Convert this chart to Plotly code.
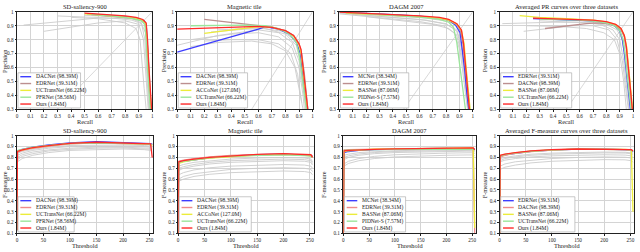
import plotly.graph_objects as go

FONT = "Liberation Serif, Times New Roman, serif"

# ---------------- titles / ticks ----------------
PR_TITLES = ["SD-saliency-900", "Magnetic tile", "DAGM 2007", "Averaged PR curves over three datasets"]
F_TITLES = ["SD-saliency-900", "Magnetic tile", "DAGM 2007", "Averaged F-measure curves over three datasets"]
PR_XTICKS = [0, 0.1, 0.2, 0.3, 0.4, 0.5, 0.6, 0.7, 0.8, 0.9, 1]
PR_XTICKTEXT = ["0", "0.1", "0.2", "0.3", "0.4", "0.5", "0.6", "0.7", "0.8", "0.9", "1"]
PR_YTICKS = [0.3, 0.4, 0.5, 0.6, 0.7, 0.8, 0.9, 1]
PR_YTICKTEXT = ["0.3", "0.4", "0.5", "0.6", "0.7", "0.8", "0.9", "1"]
F_XTICKS = [0, 50, 100, 150, 200, 250]
F_YTICKS = [0.1, 0.2, 0.3, 0.4, 0.5, 0.6, 0.7, 0.8, 0.9, 1]
F_YTICKTEXT = ["0.1", "0.2", "0.3", "0.4", "0.5", "0.6", "0.7", "0.8", "0.9", "1"]

# ---------------- PR data (recall list, precision list), legend order ----------------
SD_PR = {
    "DACNet (98.39M)": ([0.52, 0.65, 0.8, 0.9, 0.94, 0.955, 0.965, 0.975, 0.985, 0.993],
                        [0.985, 0.978, 0.965, 0.95, 0.935, 0.91, 0.78, 0.58, 0.4, 0.3]),
    "EDRNet (39.31M)": ([0.55, 0.7, 0.85, 0.92, 0.95, 0.96, 0.972, 0.983, 0.99],
                        [0.98, 0.97, 0.955, 0.94, 0.92, 0.8, 0.6, 0.4, 0.3]),
    "UCTransNet (66.22M)": ([0.5, 0.7, 0.85, 0.93, 0.95, 0.962, 0.975, 0.985, 0.992],
                            [0.985, 0.972, 0.958, 0.94, 0.915, 0.78, 0.55, 0.38, 0.3]),
    "PFRNet (58.56M)": ([0.55, 0.7, 0.85, 0.92, 0.945, 0.955, 0.965, 0.975, 0.985],
                        [0.982, 0.97, 0.952, 0.935, 0.91, 0.8, 0.6, 0.42, 0.3]),
    "Ours (1.84M)": ([0.5, 0.6, 0.7, 0.8, 0.88, 0.93, 0.955, 0.965, 0.975, 0.985, 0.995],
                     [0.99, 0.985, 0.978, 0.97, 0.96, 0.945, 0.92, 0.8, 0.6, 0.42, 0.3]),
}
SD_PR_GRAY = [
    ([0.05, 0.3, 0.6, 0.85, 0.92, 0.945, 0.96, 0.975], [0.905, 0.93, 0.955, 0.95, 0.92, 0.8, 0.55, 0.3]),
    ([0.2, 0.4, 0.6, 0.8, 0.9, 0.935, 0.955, 0.97], [0.86, 0.89, 0.92, 0.935, 0.91, 0.8, 0.55, 0.3]),
    ([0.3, 0.5, 0.7, 0.85, 0.92, 0.95, 0.965, 0.98], [0.97, 0.965, 0.955, 0.94, 0.915, 0.85, 0.6, 0.3]),
    ([0.4, 0.6, 0.8, 0.88, 0.91, 0.925, 0.94, 0.955], [0.96, 0.95, 0.92, 0.88, 0.8, 0.6, 0.45, 0.3]),
    ([0.5, 0.7, 0.85, 0.93, 0.955, 0.97, 0.985], [0.975, 0.965, 0.95, 0.93, 0.88, 0.6, 0.3]),
]
SD_DIAG = ([0.3, 1.0], [0.3, 1.0])

MT_PR = {
    "DACNet (98.39M)": ([0.0, 0.3, 0.6, 0.65, 0.75, 0.83, 0.88, 0.91, 0.93, 0.95, 0.96],
                        [0.71, 0.79, 0.875, 0.893, 0.875, 0.84, 0.78, 0.7, 0.55, 0.38, 0.3]),
    "EDRNet (39.31M)": ([0.2, 0.4, 0.6, 0.7, 0.8, 0.86, 0.9, 0.92, 0.94, 0.955, 0.965],
                        [0.945, 0.925, 0.905, 0.89, 0.865, 0.83, 0.77, 0.7, 0.55, 0.4, 0.3]),
    "ACCoNet (127.0M)": ([0.2, 0.4, 0.6, 0.7, 0.8, 0.86, 0.9, 0.915, 0.935, 0.95, 0.962],
                         [0.845, 0.87, 0.893, 0.89, 0.862, 0.825, 0.765, 0.7, 0.55, 0.4, 0.3]),
    "UCTransNet (66.22M)": ([0.1, 0.3, 0.5, 0.65, 0.75, 0.83, 0.88, 0.9, 0.92, 0.94, 0.955],
                            [0.9, 0.902, 0.905, 0.9, 0.88, 0.84, 0.78, 0.7, 0.55, 0.38, 0.3]),
    "Ours (1.84M)": ([0.0, 0.2, 0.4, 0.6, 0.7, 0.8, 0.86, 0.9, 0.915, 0.93, 0.95, 0.965],
                     [0.875, 0.88, 0.888, 0.895, 0.888, 0.865, 0.83, 0.77, 0.73, 0.6, 0.42, 0.3]),
}
MT_PR_GRAY = [
    ([0.0, 0.3, 0.6, 0.75, 0.85, 0.9, 0.93, 0.95], [0.76, 0.83, 0.87, 0.85, 0.78, 0.65, 0.45, 0.3]),
    ([0.1, 0.4, 0.6, 0.75, 0.85, 0.9, 0.93, 0.94], [0.8, 0.84, 0.85, 0.82, 0.74, 0.6, 0.4, 0.3]),
    ([0.2, 0.4, 0.6, 0.75, 0.84, 0.89, 0.92], [0.79, 0.8, 0.8, 0.77, 0.7, 0.55, 0.35]),
    ([0.25, 0.5, 0.65, 0.8, 0.88, 0.92, 0.95], [0.855, 0.875, 0.88, 0.84, 0.76, 0.6, 0.35]),
    ([0.1, 0.3, 0.55, 0.7, 0.8, 0.87, 0.9, 0.93], [0.75, 0.78, 0.79, 0.77, 0.72, 0.6, 0.45, 0.3]),
    ([0.3, 0.6, 0.78, 0.88, 0.92, 0.95, 0.96], [0.87, 0.885, 0.86, 0.79, 0.66, 0.42, 0.3]),
]
MT_DIAG = ([0.55, 1.0], [0.3, 1.0])

DG_PR = {
    "MCNet (38.34M)": ([0.0, 0.2, 0.4, 0.6, 0.75, 0.82, 0.87, 0.905, 0.92, 0.94, 0.955, 0.97],
                       [0.997, 0.99, 0.98, 0.968, 0.955, 0.94, 0.905, 0.85, 0.75, 0.58, 0.42, 0.3]),
    "EDRNet (39.31M)": ([0.0, 0.2, 0.4, 0.6, 0.75, 0.82, 0.88, 0.91, 0.928, 0.945, 0.96, 0.975],
                        [0.998, 0.99, 0.978, 0.966, 0.955, 0.94, 0.91, 0.86, 0.76, 0.6, 0.42, 0.3]),
    "BASNet (87.06M)": ([0.05, 0.2, 0.4, 0.6, 0.75, 0.82, 0.88, 0.915, 0.935, 0.95, 0.965, 0.98],
                        [0.99, 0.985, 0.975, 0.965, 0.955, 0.94, 0.912, 0.865, 0.77, 0.6, 0.42, 0.3]),
    "PIDNet-S (7.57M)": ([0.0, 0.2, 0.4, 0.6, 0.75, 0.82, 0.855, 0.88, 0.905, 0.93, 0.945],
                         [0.997, 0.988, 0.975, 0.962, 0.945, 0.925, 0.89, 0.78, 0.6, 0.42, 0.3]),
    "Ours (1.84M)": ([0.0, 0.2, 0.4, 0.6, 0.75, 0.82, 0.88, 0.915, 0.93, 0.945, 0.96, 0.975],
                     [0.998, 0.99, 0.98, 0.97, 0.96, 0.945, 0.915, 0.87, 0.78, 0.6, 0.42, 0.3]),
}
DG_PR_GRAY = [
    ([0.0, 0.3, 0.6, 0.8, 0.88, 0.92, 0.945, 0.965], [0.99, 0.97, 0.945, 0.915, 0.86, 0.72, 0.5, 0.3]),
    ([0.0, 0.3, 0.6, 0.78, 0.86, 0.905, 0.935, 0.96], [0.985, 0.96, 0.93, 0.9, 0.85, 0.72, 0.5, 0.3]),
    ([0.1, 0.4, 0.65, 0.8, 0.88, 0.92, 0.95, 0.975], [0.98, 0.96, 0.94, 0.91, 0.87, 0.75, 0.52, 0.3]),
    ([0.2, 0.45, 0.7, 0.82, 0.88, 0.915, 0.945, 0.97], [0.965, 0.94, 0.91, 0.88, 0.83, 0.7, 0.5, 0.3]),
    ([0.05, 0.35, 0.65, 0.82, 0.9, 0.935, 0.96, 0.98], [0.99, 0.975, 0.955, 0.93, 0.89, 0.75, 0.5, 0.3]),
]
DG_DIAG = ([0.48, 1.0], [0.3, 1.0])

AV_PR = {
    "EDRNet (39.31M)": ([0.25, 0.4, 0.55, 0.7, 0.8, 0.86, 0.9, 0.92, 0.935, 0.95, 0.965, 0.98],
                        [0.952, 0.947, 0.942, 0.935, 0.922, 0.9, 0.865, 0.8, 0.7, 0.55, 0.4, 0.3]),
    "DACNet (98.39M)": ([0.34, 0.5, 0.65, 0.72, 0.8, 0.87, 0.91, 0.935, 0.95, 0.965, 0.98, 0.993],
                        [0.88, 0.9, 0.915, 0.92, 0.915, 0.9, 0.87, 0.82, 0.74, 0.6, 0.42, 0.3]),
    "BASNet (87.06M)": ([0.15, 0.3, 0.5, 0.7, 0.8, 0.87, 0.91, 0.935, 0.952, 0.968, 0.982, 0.997],
                        [0.972, 0.96, 0.95, 0.94, 0.928, 0.908, 0.878, 0.83, 0.75, 0.6, 0.42, 0.3]),
    "UCTransNet (66.22M)": ([0.3, 0.45, 0.6, 0.72, 0.8, 0.86, 0.9, 0.925, 0.94, 0.955, 0.97, 0.985],
                            [0.948, 0.945, 0.94, 0.932, 0.92, 0.9, 0.865, 0.8, 0.7, 0.55, 0.4, 0.3]),
    "Ours (1.84M)": ([0.25, 0.4, 0.55, 0.7, 0.8, 0.87, 0.91, 0.935, 0.95, 0.965, 0.98, 0.995],
                     [0.955, 0.95, 0.945, 0.94, 0.93, 0.91, 0.88, 0.83, 0.75, 0.6, 0.42, 0.3]),
}
AV_PR_GRAY = [
    ([0.02, 0.2, 0.4, 0.6, 0.75, 0.85, 0.9, 0.93, 0.95, 0.97], [0.915, 0.92, 0.925, 0.925, 0.91, 0.87, 0.8, 0.65, 0.45, 0.3]),
    ([0.18, 0.35, 0.55, 0.7, 0.82, 0.88, 0.92, 0.945, 0.965], [0.86, 0.88, 0.9, 0.9, 0.87, 0.8, 0.65, 0.45, 0.3]),
    ([0.3, 0.5, 0.7, 0.82, 0.88, 0.92, 0.945, 0.965, 0.985], [0.935, 0.93, 0.92, 0.9, 0.87, 0.8, 0.65, 0.45, 0.3]),
    ([0.35, 0.55, 0.72, 0.83, 0.89, 0.93, 0.955, 0.975, 0.99], [0.945, 0.94, 0.93, 0.91, 0.88, 0.8, 0.62, 0.42, 0.3]),
    ([0.2, 0.45, 0.65, 0.78, 0.86, 0.9, 0.93, 0.95], [0.9, 0.895, 0.88, 0.85, 0.8, 0.7, 0.5, 0.3]),
]
AV_DIAG = ([0.5, 1.0], [0.3, 1.0])

# ---------------- F-measure data (threshold list shared) ----------------
F_T = [0, 1, 10, 30, 60, 100, 150, 200, 240, 252, 255]
F_T_GRAY = [1, 10, 30, 60, 100, 150, 200, 240, 252, 255]

SD_F = {
    "DACNet (98.39M)": [0.13, 0.86, 0.875, 0.895, 0.915, 0.935, 0.945, 0.94, 0.932, 0.928, 0.92],
    "EDRNet (39.31M)": [0.13, 0.85, 0.865, 0.885, 0.905, 0.925, 0.935, 0.93, 0.925, 0.92, 0.915],
    "UCTransNet (66.22M)": [0.13, 0.86, 0.87, 0.89, 0.91, 0.93, 0.935, 0.932, 0.925, 0.92, 0.91],
    "PFRNet (58.56M)": [0.13, 0.865, 0.875, 0.895, 0.912, 0.928, 0.932, 0.93, 0.925, 0.92, 0.915],
    "Ours (1.84M)": [0.13, 0.855, 0.87, 0.89, 0.91, 0.93, 0.94, 0.935, 0.928, 0.925, 0.8],
}
SD_F_GRAY = [
    [0.84, 0.855, 0.875, 0.895, 0.91, 0.915, 0.915, 0.91, 0.905, 0.89],
    [0.8, 0.825, 0.85, 0.87, 0.885, 0.895, 0.895, 0.89, 0.885, 0.87],
    [0.76, 0.79, 0.82, 0.845, 0.865, 0.875, 0.878, 0.872, 0.865, 0.85],
    [0.82, 0.84, 0.865, 0.885, 0.9, 0.905, 0.905, 0.9, 0.895, 0.88],
    [0.78, 0.81, 0.835, 0.86, 0.875, 0.885, 0.888, 0.882, 0.875, 0.86],
]

MT_F = {
    "DACNet (98.39M)": [0.1, 0.75, 0.765, 0.78, 0.797, 0.812, 0.825, 0.83, 0.825, 0.82, 0.81],
    "EDRNet (39.31M)": [0.1, 0.765, 0.775, 0.79, 0.805, 0.818, 0.826, 0.828, 0.822, 0.818, 0.81],
    "ACCoNet (127.0M)": [0.1, 0.745, 0.76, 0.778, 0.795, 0.81, 0.822, 0.828, 0.822, 0.818, 0.805],
    "UCTransNet (66.22M)": [0.1, 0.755, 0.765, 0.78, 0.798, 0.812, 0.82, 0.825, 0.818, 0.812, 0.8],
    "Ours (1.84M)": [0.1, 0.76, 0.77, 0.785, 0.8, 0.815, 0.828, 0.835, 0.83, 0.825, 0.8],
}
MT_F_GRAY = [
    [0.72, 0.735, 0.755, 0.77, 0.785, 0.795, 0.8, 0.795, 0.785, 0.76],
    [0.68, 0.7, 0.72, 0.74, 0.755, 0.765, 0.77, 0.765, 0.755, 0.73],
    [0.64, 0.66, 0.685, 0.705, 0.72, 0.73, 0.735, 0.73, 0.72, 0.7],
    [0.6, 0.625, 0.65, 0.67, 0.69, 0.7, 0.705, 0.7, 0.69, 0.67],
    [0.7, 0.715, 0.735, 0.755, 0.77, 0.78, 0.785, 0.78, 0.77, 0.745],
    [0.58, 0.6, 0.625, 0.645, 0.66, 0.67, 0.675, 0.67, 0.66, 0.64],
]

DG_F = {
    "MCNet (38.34M)": [0.1, 0.845, 0.855, 0.865, 0.872, 0.878, 0.882, 0.884, 0.885, 0.885, 0.88],
    "EDRNet (39.31M)": [0.1, 0.87, 0.872, 0.875, 0.878, 0.88, 0.882, 0.884, 0.885, 0.885, 0.1],
    "BASNet (87.06M)": [0.1, 0.855, 0.862, 0.87, 0.876, 0.88, 0.883, 0.886, 0.887, 0.887, 0.15],
    "PIDNet-S (7.57M)": [0.1, 0.865, 0.868, 0.87, 0.872, 0.874, 0.875, 0.876, 0.877, 0.877, 0.87],
    "Ours (1.84M)": [0.1, 0.86, 0.865, 0.87, 0.875, 0.88, 0.884, 0.887, 0.888, 0.888, 0.87],
}
DG_F_GRAY = [
    [0.82, 0.83, 0.845, 0.855, 0.862, 0.867, 0.87, 0.872, 0.872, 0.865],
    [0.78, 0.8, 0.82, 0.835, 0.845, 0.852, 0.856, 0.858, 0.858, 0.85],
    [0.74, 0.765, 0.79, 0.81, 0.825, 0.835, 0.84, 0.843, 0.843, 0.835],
    [0.8, 0.815, 0.832, 0.845, 0.855, 0.86, 0.864, 0.866, 0.866, 0.858],
    [0.72, 0.745, 0.77, 0.79, 0.805, 0.815, 0.82, 0.823, 0.823, 0.815],
]

AV_F = {
    "EDRNet (39.31M)": [0.1, 0.81, 0.825, 0.84, 0.856, 0.868, 0.876, 0.877, 0.872, 0.87, 0.85],
    "DACNet (98.39M)": [0.1, 0.805, 0.82, 0.838, 0.855, 0.868, 0.877, 0.878, 0.872, 0.868, 0.86],
    "BASNet (87.06M)": [0.1, 0.815, 0.828, 0.843, 0.858, 0.87, 0.877, 0.878, 0.874, 0.87, 0.3],
    "UCTransNet (66.22M)": [0.1, 0.812, 0.826, 0.842, 0.857, 0.869, 0.876, 0.877, 0.873, 0.87, 0.855],
    "Ours (1.84M)": [0.1, 0.82, 0.83, 0.845, 0.86, 0.872, 0.878, 0.878, 0.874, 0.872, 0.86],
}
AV_F_GRAY = [
    [0.79, 0.8, 0.815, 0.83, 0.84, 0.848, 0.85, 0.848, 0.842, 0.83],
    [0.76, 0.775, 0.79, 0.805, 0.815, 0.822, 0.825, 0.822, 0.815, 0.8],
    [0.72, 0.74, 0.76, 0.775, 0.79, 0.8, 0.805, 0.802, 0.795, 0.78],
    [0.69, 0.71, 0.73, 0.75, 0.765, 0.775, 0.78, 0.778, 0.77, 0.755],
    [0.77, 0.79, 0.805, 0.82, 0.83, 0.838, 0.842, 0.84, 0.834, 0.82],
]

# ---------------- styling ----------------
PR_COLORS = ["#3d3dff", "#bc8f8f", "#ecec3a", "#9be59b", "#ff2a2a"]
F_COLORS = ["#3d3dff", "#f08a8a", "#ecec3a", "#9be59b", "#ff2a2a"]
GRAY = "#cccccc"

# plot-area pixel boxes (left, right) and rows (top, bottom)
ROW_PX = [(9, 109), (136, 236)]
COL_PX = [[(16, 152), (177, 313), (340, 474), (501, 635)],
          [(16, 153), (178, 314), (344, 477), (501, 636)]]
LEG_W = [[0.47, 0.52, 0.52, 0.54], [0.42, 0.54, 0.47, 0.56]]
YTITLE_PX = [3.5, 163.5, 324, 486]
W, H = 640, 252
TICK_SIZE = 5.2
LABEL_SIZE = 6.3

fig = go.Figure()
layout = dict(width=W, height=H, margin=dict(l=0, r=0, t=0, b=0),
              paper_bgcolor="white", plot_bgcolor="white", showlegend=False,
              font=dict(family=FONT, size=6, color="#222"))
shapes, annotations = [], []

pr_panels = [(SD_PR, SD_PR_GRAY, SD_DIAG), (MT_PR, MT_PR_GRAY, MT_DIAG),
             (DG_PR, DG_PR_GRAY, DG_DIAG), (AV_PR, AV_PR_GRAY, AV_DIAG)]
f_panels = [(SD_F, SD_F_GRAY), (MT_F, MT_F_GRAY), (DG_F, DG_F_GRAY), (AV_F, AV_F_GRAY)]


def axis_common():
    return dict(showline=True, mirror=True, linecolor="#222", linewidth=0.8,
                showgrid=True, gridcolor="#d4d4d4", gridwidth=0.8, zeroline=False,
                ticks="outside", ticklen=1.5, tickwidth=0.6, tickcolor="#222",
                tickfont=dict(family=FONT, size=TICK_SIZE, color="#222"))


def add_legend(idx, names, colors, box_w):
    xr = "x domain" if idx == 1 else f"x{idx} domain"
    yr = "y domain" if idx == 1 else f"y{idx} domain"
    shapes.append(dict(type="rect", xref=xr, yref=yr, x0=0.008, x1=box_w, y0=0.015, y1=0.375,
                       fillcolor="white", line=dict(color="#b0b0b0", width=0.7), layer="above"))
    for k, (name, col) in enumerate(zip(names, colors)):
        yk = 0.335 - k * 0.07
        shapes.append(dict(type="line", xref=xr, yref=yr, x0=0.025, x1=0.105, y0=yk, y1=yk,
                           line=dict(color=col, width=1.4), layer="above"))
        annotations.append(dict(xref=xr, yref=yr, x=0.125, y=yk, text=name, showarrow=False,
                                xanchor="left", yanchor="middle",
                                font=dict(family=FONT, size=5.5, color="#222")))


for row in range(2):
    top, bot = ROW_PX[row]
    ydom = [1 - bot / H, 1 - top / H]
    for col in range(4):
        idx = row * 4 + col + 1
        left, right = COL_PX[row][col]
        xdom = [left / W, right / W]
        xa = "x" if idx == 1 else f"x{idx}"
        ya = "y" if idx == 1 else f"y{idx}"
        xax = axis_common()
        yax = axis_common()
        xax.update(domain=xdom, anchor=ya)
        yax.update(domain=ydom, anchor=xa)
        if row == 0:
            data, gray, diag = pr_panels[col]
            xax.update(range=[0, 1], tickvals=PR_XTICKS, ticktext=PR_XTICKTEXT)
            yax.update(range=[0.3, 1], tickvals=PR_YTICKS, ticktext=PR_YTICKTEXT)
            fig.add_trace(go.Scatter(x=diag[0], y=diag[1], mode="lines", xaxis=xa, yaxis=ya,
                                     line=dict(color="#c8c8c8", width=0.7)))
            for gx, gy in gray:
                fig.add_trace(go.Scatter(x=gx, y=gy, mode="lines", xaxis=xa, yaxis=ya,
                                         line=dict(color=GRAY, width=0.9)))
            for (name, (cx, cy)), c in zip(data.items(), PR_COLORS):
                fig.add_trace(go.Scatter(x=cx, y=cy, mode="lines", name=name, xaxis=xa, yaxis=ya,
                                         line=dict(color=c, width=1.3)))
            add_legend(idx, list(data.keys()), PR_COLORS, LEG_W[row][col])
            title, xt, yt = PR_TITLES[col], "Recall", "Precision"
        else:
            data, gray = f_panels[col]
            xax.update(range=[0, 257], tickvals=F_XTICKS)
            yax.update(range=[0.1, 1], tickvals=F_YTICKS, ticktext=F_YTICKTEXT)
            for gy in gray:
                fig.add_trace(go.Scatter(x=F_T_GRAY, y=gy, mode="lines", xaxis=xa, yaxis=ya,
                                         line=dict(color=GRAY, width=0.9)))
            for (name, cy), c in zip(data.items(), F_COLORS):
                fig.add_trace(go.Scatter(x=F_T, y=cy, mode="lines", name=name, xaxis=xa, yaxis=ya,
                                         line=dict(color=c, width=1.3)))
            add_legend(idx, list(data.keys()), F_COLORS, LEG_W[row][col])
            title, xt, yt = F_TITLES[col], "Threshold", "F-measure"
        layout["xaxis" if idx == 1 else f"xaxis{idx}"] = xax
        layout["yaxis" if idx == 1 else f"yaxis{idx}"] = yax
        # title
        annotations.append(dict(xref="paper", yref="paper", x=(left + right) / 2 / W,
                                y=1 - (top - 5) / H, text=title, showarrow=False,
                                xanchor="center", yanchor="middle",
                                font=dict(family=FONT, size=6.5, color="#222")))
        # x-axis title
        annotations.append(dict(xref="paper", yref="paper", x=(left + right) / 2 / W,
                                y=1 - (bot + 12) / H, text=xt, showarrow=False,
                                xanchor="center", yanchor="middle",
                                font=dict(family=FONT, size=LABEL_SIZE, color="#222")))
        # y-axis title
        annotations.append(dict(xref="paper", yref="paper", x=YTITLE_PX[col] / W,
                                y=1 - (top + bot) / 2 / H, text=yt, showarrow=False, textangle=-90,
                                xanchor="center", yanchor="middle",
                                font=dict(family=FONT, size=LABEL_SIZE, color="#222")))

layout["shapes"] = shapes
layout["annotations"] = annotations
fig.update_layout(**layout)
fig.write_html("out.html", config={"displayModeBar": False},
               post_script="document.body.style.margin='0';document.body.style.overflow='hidden';")
